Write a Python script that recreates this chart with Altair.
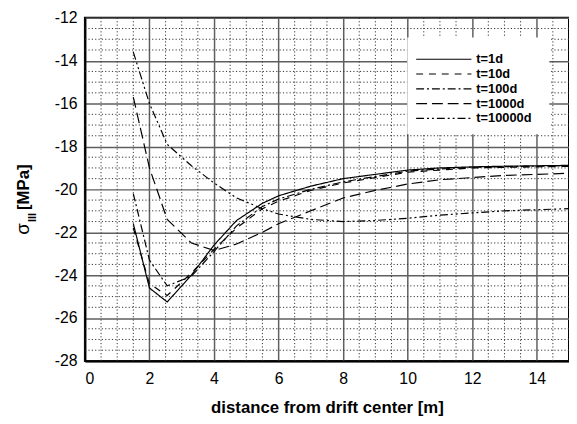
import altair as alt
import pandas as pd

# ---- data ----
x_nodes = [1.5, 2.0, 2.55, 3.3, 4.0, 4.7, 5.5, 6.0, 7.0, 8.0, 9.0, 10.0, 11.0, 12.0, 13.0, 15.0]
t1d     = [-21.6, -24.6, -25.25, -24.0, -22.6, -21.45, -20.65, -20.3, -19.85, -19.5, -19.3, -19.1, -19.0, -18.95, -18.92, -18.88]
t10d    = [-21.8, -24.4, -24.95, -23.9, -22.8, -21.8, -20.9, -20.55, -20.05, -19.7, -19.45, -19.2, -19.1, -19.0, -18.97, -18.93]
t100d   = [-20.2, -23.3, -24.5, -24.05, -22.9, -21.7, -20.8, -20.45, -20.0, -19.65, -19.4, -19.15, -19.05, -18.97, -18.94, -18.9]
t1000d  = [-15.7, -19.0, -21.4, -22.5, -22.85, -22.55, -22.0, -21.6, -21.0, -20.4, -20.05, -19.75, -19.55, -19.45, -19.35, -19.25]
t10000d = [-13.6, -16.0, -17.9, -18.9, -19.7, -20.4, -20.9, -21.15, -21.4, -21.5, -21.45, -21.35, -21.2, -21.1, -21.0, -20.9]

series_names = ["t=1d", "t=10d", "t=100d", "t=1000d", "t=10000d"]
series_vals = [t1d, t10d, t100d, t1000d, t10000d]
dash_styles = [[1, 0], [7, 6], [8, 3, 2, 3], [11, 5], [8, 3, 2, 3, 2, 3]]

x_major = [0, 2, 4, 6, 8, 10, 12, 14]
y_major = [-28, -26, -24, -22, -20, -18, -16, -14, -12]
x_minor = [v / 2 for v in range(1, 30) if v % 4 != 0]
y_minor = [-28 + v / 2 for v in range(1, 32) if v % 4 != 0]

rows = []
for name, vals in zip(series_names, series_vals):
    for xv, yv in zip(x_nodes, vals):
        rows.append({"x": xv, "y": yv, "series": name})
df = pd.DataFrame(rows)

W, H = 491, 348
xs = alt.Scale(domain=[0, 15], nice=False, zero=False)
ys = alt.Scale(domain=[-28, -12], nice=False, zero=False)
dash_scale = alt.Scale(domain=series_names, range=dash_styles)

minor_style = dict(color="#333", strokeWidth=1, strokeDash=[1.2, 2.2])
vminor = alt.Chart(pd.DataFrame({"x": x_minor})).mark_rule(**minor_style).encode(
    x=alt.X("x:Q", scale=xs))
hminor = alt.Chart(pd.DataFrame({"y": y_minor})).mark_rule(**minor_style).encode(
    y=alt.Y("y:Q", scale=ys))

lab_expr = "'' + datum.value"
lines = alt.Chart(df).mark_line(color="black", strokeWidth=1.2, clip=True).encode(
    x=alt.X("x:Q", scale=xs,
            axis=alt.Axis(values=x_major, title="distance from drift center [m]",
                          grid=True, gridColor="#5f5f5f", gridWidth=1.5,
                          ticks=False, labelPadding=10, titlePadding=13,
                          labelExpr=lab_expr)),
    y=alt.Y("y:Q", scale=ys,
            axis=alt.Axis(values=y_major, title=None, grid=True,
                          gridColor="#5f5f5f", gridWidth=1.5, ticks=False,
                          labelPadding=8, labelExpr=lab_expr)),
    strokeDash=alt.StrokeDash("series:N", scale=dash_scale, legend=None),
    order="x:Q",
)

# ---- hand-built legend (box, sample strokes, labels) ----
leg_df = pd.DataFrame({"series": series_names, "i": list(range(len(series_names)))})
leg_box = alt.Chart(pd.DataFrame({"a": [0]})).mark_rect(color="white").encode(
    x=alt.value(327), x2=alt.value(471), y=alt.value(20), y2=alt.value(118))
leg_base = alt.Chart(leg_df).transform_calculate(ly="42 + 15 * datum.i")
leg_lines = leg_base.mark_rule(color="black", strokeWidth=1.2).encode(
    x=alt.value(336), x2=alt.value(392), y=alt.Y("ly:Q", scale=None),
    strokeDash=alt.StrokeDash("series:N", scale=dash_scale, legend=None))
leg_text = leg_base.mark_text(align="left", baseline="middle", fontSize=13,
                              fontWeight="bold", font="Liberation Sans",
                              color="black").encode(
    x=alt.value(397), y=alt.Y("ly:Q", scale=None), text="series:N")

sigma = alt.Chart(pd.DataFrame({"t": ["σ"]})).mark_text(
    angle=270, align="left", baseline="alphabetic", fontSize=19,
    font="Liberation Sans", color="black").encode(
    text="t:N", x=alt.value(-57), y=alt.value(220))
sub = alt.Chart(pd.DataFrame({"t": ["III"]})).mark_text(
    angle=270, align="left", baseline="alphabetic", fontSize=11, fontWeight="bold",
    font="Liberation Sans", color="black").encode(
    text="t:N", x=alt.value(-50), y=alt.value(207))
mpa = alt.Chart(pd.DataFrame({"t": ["[MPa]"]})).mark_text(
    angle=270, align="left", baseline="alphabetic", fontSize=17, fontWeight="bold",
    font="Liberation Sans", color="black").encode(
    text="t:N", x=alt.value(-57), y=alt.value(195))

chart = alt.layer(vminor, hminor, leg_box, lines, leg_lines, leg_text,
                  sigma, sub, mpa).properties(
    width=W, height=H,
    autosize=alt.AutoSizeParams(type="none"),
    padding={"left": 78, "top": 7, "right": 0, "bottom": 60},
).configure_view(stroke="black", strokeWidth=2).configure_axis(
    domainColor="black", domainWidth=2,
    labelFont="Liberation Sans", labelFontSize=16, labelColor="black",
    titleFont="Liberation Sans", titleFontSize=17, titleFontWeight="bold",
    titleColor="black",
)

chart.save("out.html", embed_options={"renderer": "svg", "actions": False})
